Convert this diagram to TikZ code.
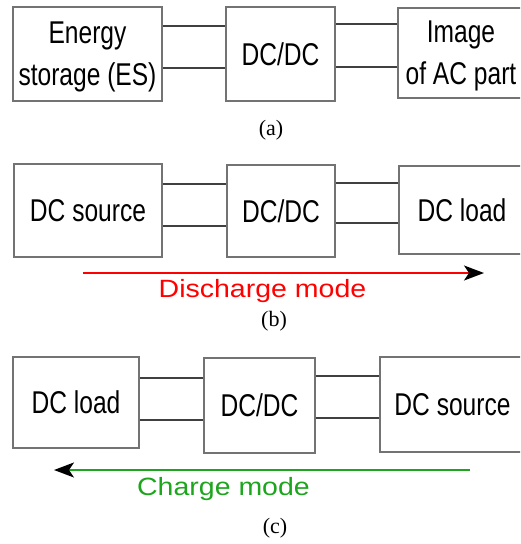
\documentclass[tikz,border=0pt]{standalone}
\usepackage{fontspec}
\setmainfont{Liberation Serif}
\newfontfamily\blockfont[FakeStretch=0.78]{Liberation Sans}
\newfontfamily\modefont[FakeStretch=1.14]{Liberation Sans}
\usetikzlibrary{arrows.meta}
\definecolor{dischargered}{RGB}{255,0,0}
\definecolor{chargegreen}{RGB}{30,165,30}
\begin{document}
\begin{tikzpicture}[x=1pt,y=-1pt,
		block/.style={draw=black!55,line width=1.5pt,inner sep=0pt,align=center,font=\blockfont\fontsize{31.5}{42}\selectfont},
		wire/.style={draw=black!75,line width=1.3pt},
		modearrow/.style={line width=2pt,-{Stealth[black,length=20pt,width=15pt,inset=5pt]}},
		modelabel/.style={anchor=base,font=\modefont\fontsize{25}{30}\selectfont},
		caption/.style={font=\fontsize{22}{26}\selectfont}]
	\useasboundingbox (0,0) rectangle (520,544);
	\clip (0,0) rectangle (520,544);
	% (a)
	\node[block,minimum width=149pt,minimum height=94pt,text depth=-2pt] (es) at (87.5,54) {Energy\\storage (ES)};
	\node[block,minimum width=109pt,minimum height=94pt] (dca) at (280.5,54) {DC/DC};
	\node[block,minimum width=126pt,minimum height=90pt,text depth=-2pt] (ac) at (461,53) {Image\\of AC part};
	\draw[wire] ([yshift=28pt]es.east) -- ([yshift=28pt]es.east -| dca.west);
	\draw[wire] ([yshift=-14pt]es.east) -- ([yshift=-14pt]es.east -| dca.west);
	\draw[wire] ([yshift=30pt]dca.east) -- ([yshift=30pt]dca.east -| ac.west);
	\draw[wire] ([yshift=-13pt]dca.east) -- ([yshift=-13pt]dca.east -| ac.west);
	\node[caption] (capa) at (271,130) {(a)};
	% (b)
	\node[block,minimum width=148pt,minimum height=93pt] (srcb) at (88,210.5) {DC source};
	\node[block,minimum width=108pt,minimum height=92pt] (dcb) at (281,211) {DC/DC};
	\node[block,minimum width=126pt,minimum height=88pt] (loadb) at (462,210) {DC load};
	\draw[wire] ([yshift=26.5pt]srcb.east) -- ([yshift=26.5pt]srcb.east -| dcb.west);
	\draw[wire] ([yshift=-15.5pt]srcb.east) -- ([yshift=-15.5pt]srcb.east -| dcb.west);
	\draw[wire] ([yshift=28pt]dcb.east) -- ([yshift=28pt]dcb.east -| loadb.west);
	\draw[wire] ([yshift=-12pt]dcb.east) -- ([yshift=-12pt]dcb.east -| loadb.west);
	\coordinate (dstart) at (83,273);
	\coordinate (dend) at (484,273);
	\draw[modearrow,dischargered] (dstart) -- (dend);
	\node[modelabel,text=dischargered] (dlabel) at (262.5,297.5) {Discharge mode};
	\node[caption] (capb) at (274,321) {(b)};
	% (c)
	\node[block,minimum width=126pt,minimum height=91pt] (loadc) at (76,402.5) {DC load};
	\node[block,minimum width=111pt,minimum height=95pt] (dcc) at (259.5,405.5) {DC/DC};
	\node[block,minimum width=145pt,minimum height=95pt] (srcc) at (452.5,404.5) {DC source};
	\draw[wire] ([yshift=24.5pt]loadc.east) -- ([yshift=24.5pt]loadc.east -| dcc.west);
	\draw[wire] ([yshift=-17.5pt]loadc.east) -- ([yshift=-17.5pt]loadc.east -| dcc.west);
	\draw[wire] ([yshift=29.5pt]dcc.east) -- ([yshift=29.5pt]dcc.east -| srcc.west);
	\draw[wire] ([yshift=-12.5pt]dcc.east) -- ([yshift=-12.5pt]dcc.east -| srcc.west);
	\coordinate (cstart) at (470,470);
	\coordinate (cend) at (54,470);
	\draw[modearrow,chargegreen] (cstart) -- (cend);
	\node[modelabel,text=chargegreen] (clabel) at (223.5,495) {Charge mode};
	\node[caption] (capc) at (275,528.5) {(c)};
\end{tikzpicture}
\end{document}
